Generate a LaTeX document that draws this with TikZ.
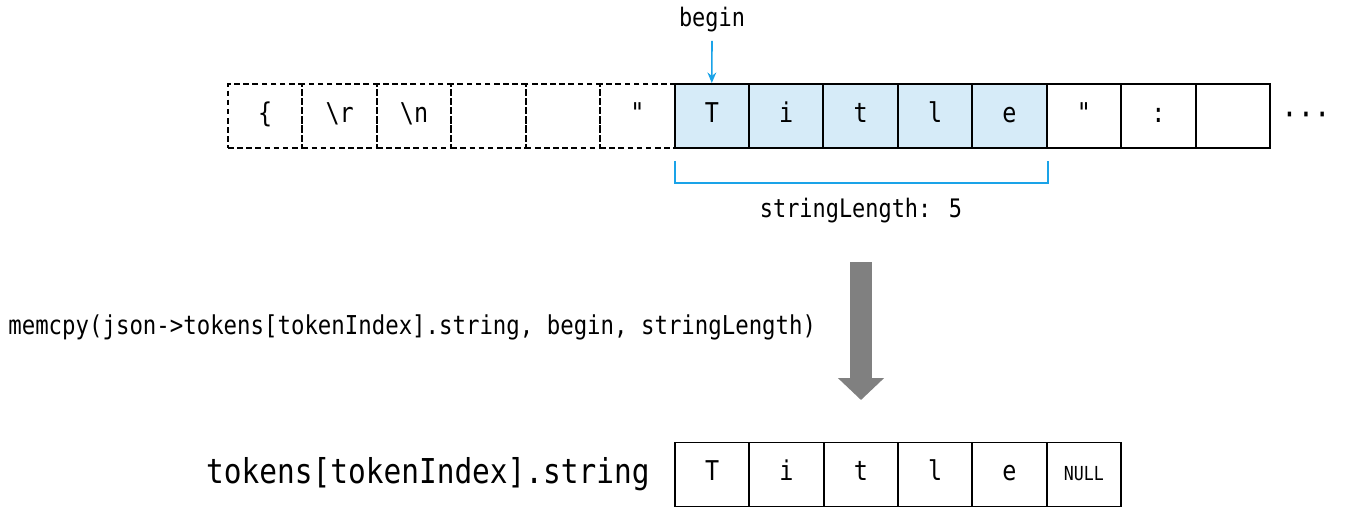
\documentclass[tikz,border=0pt]{standalone}
\usepackage{fontspec}
\newfontfamily\codefont[FakeStretch=0.86]{DejaVu Sans Mono}
\usetikzlibrary{arrows.meta,calc,positioning}
\definecolor{Sky}{HTML}{1AA3E8}
\definecolor{SkyFill}{HTML}{D6EBF8}
\definecolor{Pipe}{HTML}{808080}

\tikzset{
  cell/.style={draw,line width=1.1pt,minimum width=1.488cm,minimum height=1.28cm,
    inner sep=0pt,text height=0.73em,text depth=0pt,
    font=\codefont\fontsize{15.5}{17}\selectfont},
  ghost/.style={cell,dashed,dash pattern=on 3.2pt off 2pt},
  picked/.style={cell,fill=SkyFill},
  code/.style={font=\codefont\fontsize{14.5}{16}\selectfont,inner sep=0pt}
}

\begin{document}
\begin{tikzpicture}[x=0.02cm,y=-0.02cm,>=Stealth]
  \useasboundingbox (0,0) rectangle (1355,521);
  % input buffer
  \foreach \ch [count=\i from 0] in {\{,\textbackslash r,\textbackslash n,{},{},"}
    \node[ghost] (t\i) at ({228+74.43*(\i+0.5)},116) {\ch};
  \foreach \ch [count=\i from 6] in {T,i,t,l,e}
    \node[picked] (t\i) at ({228+74.43*(\i+0.5)},116) {\ch};
  \foreach \ch [count=\i from 11] in {",:,{}}
    \node[cell] (t\i) at ({228+74.43*(\i+0.5)},116) {\ch};
  \node[code,font=\codefont\fontsize{18}{20}\selectfont] (more) at (1306,119) {···};

  \node[code] (begin) at (712,20) {begin};
  \draw[-{Stealth[length=6pt,width=5pt]},Sky,line width=0.9pt] (begin.south)++(0,8) -- (t6.north);

  \coordinate (lenL) at ($(t6.south west)+(1,12)$);
  \coordinate (lenR) at ($(t10.south east)+(0,12)$);
  \draw[Sky,line width=1pt] (lenL) -- ++(0,22) -| (lenR);
  \node[code] (len) at (861,211) {stringLength: 5};

  % copy
  \coordinate (cpyS) at (861,262);
  \coordinate (cpyE) at (861,400);
  \draw[Pipe,line width=0.44cm,-{Triangle[length=0.44cm,width=0.9cm]}] (cpyS) -- (cpyE);
  \node[code,font=\codefont\fontsize{14.8}{16}\selectfont,anchor=west] (call) at (8,327) {memcpy(json->tokens[tokenIndex].string, begin, stringLength)};

  % destination
  \foreach \ch [count=\i from 0] in {T,i,t,l,e}
    \node[cell] (b\i) at ({675+74.33*(\i+0.5)},474.5) {\ch};
  \node[cell,font=\codefont\fontsize{11}{12}\selectfont] (b5) at ({675+74.33*5.5},474.5) {NULL};
  \node[code,font=\codefont\fontsize{19.5}{21}\selectfont,anchor=east,left=24 of b0] (dst) {tokens[tokenIndex].string};
\end{tikzpicture}
\end{document}
